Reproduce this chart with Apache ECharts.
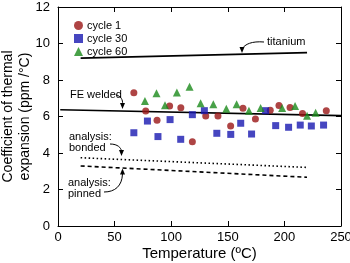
<!DOCTYPE html>
<html><head><meta charset="utf-8">
<script src="https://cdn.jsdelivr.net/npm/echarts@6/dist/echarts.min.js"></script>
<style>html,body{margin:0;padding:0;background:#fff}#c{width:350px;height:263px}</style>
</head><body><div id="c"></div>
<script>
var cycle1T = [67, 77.5, 87.5, 98.6, 108.5, 118.7, 130.5, 141.3, 152.5, 163.4, 174.4, 187.5, 195.2, 205, 216, 237];
var cycle1V = [7.3, 6.3, 5.8, 6.57, 6.48, 4.62, 6.03, 6.03, 5.48, 6.45, 5.86, 6.34, 6.6, 6.5, 6.17, 6.32];
var cycle30T = [67, 79, 88.3, 99, 108.4, 118.7, 129.3, 140.3, 152.6, 161.4, 171, 183.4, 192.3, 203.7, 214, 223.8, 234.6];
var cycle30V = [5.11, 5.75, 4.9, 5.83, 4.75, 6.1, 6.32, 5.08, 5.02, 5.63, 5.04, 6.32, 5.5, 5.41, 5.53, 5.48, 5.53];
var cycle60T = [76.8, 87, 94.5, 105, 116.2, 126, 137.2, 148.7, 157.8, 168.7, 179, 198, 209.4, 220, 227.6];
var cycle60V = [6.85, 7.27, 6.62, 7.31, 7.63, 6.72, 6.67, 6.43, 6.67, 6.32, 6.47, 6.47, 6.58, 6.04, 6.2];
var titaniumLine = [[20, 9.2], [220, 9.5]];
var feWeldedLine = [[2, 6.37], [250, 6.05]];
var bondedLine = [[20, 3.74], [220, 3.21]];
var pinnedLine = [[20, 3.29], [220, 2.67]];
var xTicks = [0, 50, 100, 150, 200, 250];
var yTicks = [0, 2, 4, 6, 8, 10, 12];

function pairs(t, v) { return t.map(function (x, i) { return [x, v[i]]; }); }

var FONT = '"Liberation Sans", Arial, sans-serif';
var chart = echarts.init(document.getElementById('c'));
function lineSeries(name, data, type) {
  return { name: name, type: 'line', data: data, symbol: 'none', silent: true,
    lineStyle: { color: '#000', width: 1.6, type: type }, z: 1 };
}
function arrowHead(x, y, dir) {
  return { type: 'polygon', shape: { points: [[x - 2.5, y - 6 * dir], [x + 2.5, y - 6 * dir], [x, y]] },
    style: { fill: '#000' }, z: 10 };
}
function curve(x1, y1, cx1, cy1, cx2, cy2, x2, y2) {
  return { type: 'bezierCurve', shape: { x1: x1, y1: y1, cpx1: cx1, cpy1: cy1, cpx2: cx2, cpy2: cy2, x2: x2, y2: y2 },
    style: { stroke: '#000', lineWidth: 1, fill: null }, z: 10 };
}
function label(x, y, text) {
  return { type: 'text', left: x, top: y, style: { text: text, font: '11px ' + FONT, fill: '#000', lineHeight: 11 }, z: 10 };
}
var option = {
  animation: false,
  textStyle: { fontFamily: FONT },
  grid: { left: 58, right: 9, top: 7, bottom: 37, show: false, containLabel: false, outerBoundsMode: 'none' },
  legend: {
    data: [{ name: 'cycle 1', icon: 'circle' }, { name: 'cycle 30', icon: 'rect' }, { name: 'cycle 60', icon: 'triangle' }],
    orient: 'vertical', left: 69, top: 15, itemWidth: 9, itemHeight: 9, itemGap: 2,
    textStyle: { fontSize: 11, color: '#000', fontFamily: FONT, padding: [0, 0, 0, -1] }
  },
  xAxis: [{
    type: 'value', min: 0, max: 250, interval: 50,
    name: 'Temperature (ºC)', nameLocation: 'middle', nameGap: 20, nameMoveOverlap: false,
    nameTextStyle: { fontSize: 15, color: '#000', fontFamily: FONT },
    axisLine: { show: true, onZero: false, lineStyle: { color: '#000', width: 1 } },
    axisTick: { inside: true, length: 5, lineStyle: { color: '#000' } },
    axisLabel: { fontSize: 13, color: '#000', margin: 5, fontFamily: FONT },
    splitLine: { show: false }
  }, {
    type: 'value', min: 0, max: 250, interval: 50, position: 'top',
    axisLine: { show: true, onZero: false, lineStyle: { color: '#000', width: 1 } },
    axisTick: { inside: true, length: 5, lineStyle: { color: '#000' } },
    axisLabel: { show: false }, splitLine: { show: false }
  }],
  yAxis: [{
    type: 'value', min: 0, max: 12, interval: 2,
    name: 'Coefficient of thermal\nexpansion (ppm /°C)', nameLocation: 'middle', nameGap: 24, nameMoveOverlap: false,
    nameTextStyle: { fontSize: 14, color: '#000', fontFamily: FONT, lineHeight: 17 },
    axisLine: { show: true, onZero: false, lineStyle: { color: '#000', width: 1 } },
    axisTick: { inside: true, length: 5, lineStyle: { color: '#000' } },
    axisLabel: { fontSize: 13, color: '#000', margin: 8, fontFamily: FONT },
    splitLine: { show: false }
  }, {
    type: 'value', min: 0, max: 12, interval: 2, position: 'right',
    axisLine: { show: true, onZero: false, lineStyle: { color: '#000', width: 1 } },
    axisTick: { inside: true, length: 5, lineStyle: { color: '#000' } },
    axisLabel: { show: false }, splitLine: { show: false }
  }],
  series: [
    lineSeries('titanium', titaniumLine, 'solid'),
    lineSeries('FE welded', feWeldedLine, 'solid'),
    lineSeries('analysis: bonded', bondedLine, [1.5, 2.5]),
    lineSeries('analysis: pinned', pinnedLine, [4, 3]),
    { name: 'cycle 1', type: 'scatter', data: pairs(cycle1T, cycle1V), symbol: 'circle', symbolSize: 7,
      itemStyle: { color: '#9a1515' }, z: 3 },
    { name: 'cycle 30', type: 'scatter', data: pairs(cycle30T, cycle30V), symbol: 'rect', symbolSize: 7,
      itemStyle: { color: '#1818b0' }, z: 3 },
    { name: 'cycle 60', type: 'scatter', data: pairs(cycle60T, cycle60V), symbol: 'triangle', symbolSize: 8,
      itemStyle: { color: '#1a8a1a' }, z: 3 }
  ],
  graphic: [
    label(267, 36, 'titanium'),
    curve(264, 42, 252, 41, 245, 44, 242, 49),
    arrowHead(242, 53, 1),
    label(70, 89, 'FE welded'),
    curve(116, 95, 121, 96, 123, 100, 122.5, 104),
    arrowHead(122.5, 109, 1),
    label(69, 131, 'analysis:\nbonded'),
    curve(110, 144, 118, 144, 121, 148, 121.5, 151),
    arrowHead(121.5, 156, 1),
    label(68, 177, 'analysis:\npinned'),
    curve(104, 192, 115, 192, 122, 186, 122.5, 174),
    arrowHead(122.5, 168.5, -1)
  ]
};
chart.setOption(option);
</script>
</body></html>
